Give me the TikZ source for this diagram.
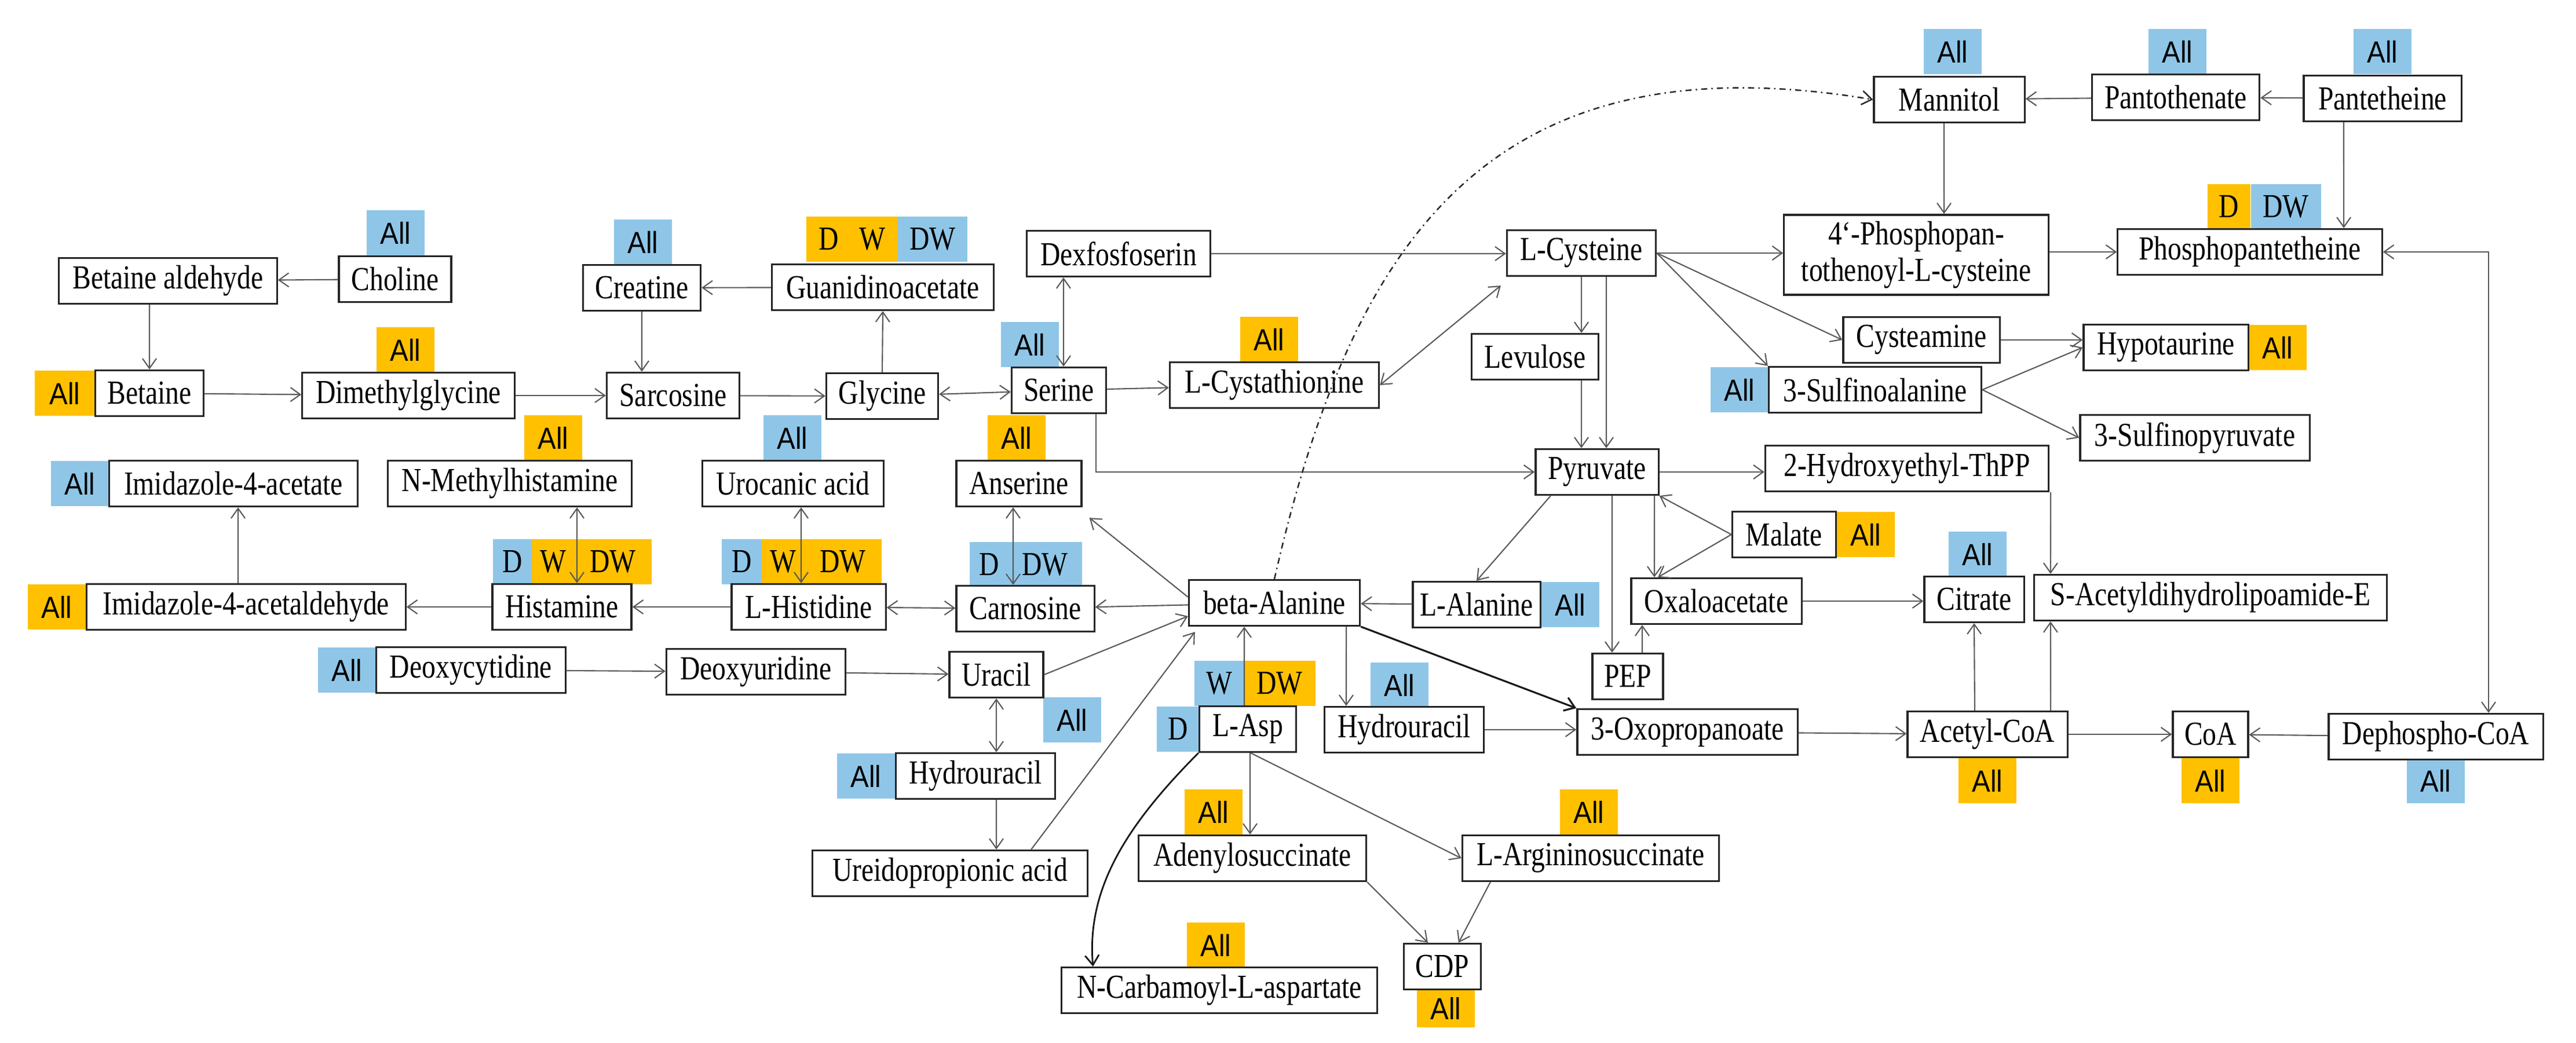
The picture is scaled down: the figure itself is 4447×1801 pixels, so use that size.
\documentclass[tikz,border=0pt]{standalone}
\usepackage{fontspec}
\setmainfont{Liberation Serif}[FakeStretch=0.82]
\newfontfamily\tagsans{Liberation Sans}[FakeStretch=0.9]
\usetikzlibrary{arrows.meta}
\definecolor{tb}{HTML}{8FC6E8}
\definecolor{to}{HTML}{FFC000}
\begin{document}
\begin{tikzpicture}[x=0.01cm,y=-0.01cm,
  box/.style={draw=black!85,line width=0.9pt,fill=white,minimum height=0.79cm,inner sep=0pt,font=\fontsize{16.5}{18}\selectfont},
  tag/.style={minimum height=0.78cm,minimum width=1cm,inner sep=0pt,font=\tagsans\fontsize{15}{17}\selectfont},
  tagl/.style={minimum height=0.78cm,inner sep=0pt,font=\fontsize{16.5}{18}\selectfont},
  B/.style={tag,fill=tb},O/.style={tag,fill=to},
  BL/.style={tagl,fill=tb},OL/.style={tagl,fill=to},
  e/.style={draw=black!65,line width=0.6pt},
  >={Straight Barb[length=0.17cm,width=0.24cm]}]
\useasboundingbox (0,0) rectangle (4447,1801);
% ---- tags
\node[B] (t1) at (683,402) {All};
\node[B] (t2) at (1110,418) {All};
\node[OL,minimum width=1.57cm] (t3) at (1471,413) {D\hspace{0.6em}W};
\node[BL,minimum width=1.2cm] (t4) at (1610,413) {DW};
\node[O,minimum width=1.04cm] (t5) at (112,679) {All};
\node[O] (t6) at (700,604) {All};
\node[B] (t7) at (1778,595) {All};
\node[O] (t8) at (2191,586) {All};
\node[B] (t9) at (3371,89) {All};
\node[B] (t10) at (3759,89) {All};
\node[B] (t11) at (4113,89) {All};
\node[OL,minimum width=0.74cm] (t12) at (3848,357) {D};
\node[BL,minimum width=1.21cm] (t13) at (3946,357) {DW};
\node[O] (t14) at (3932,600) {All};
\node[B] (t15) at (3003,673) {All};
\node[O] (t16) at (3221,923) {All};
\node[B] (t17) at (2711,1044) {All};
\node[B] (t18) at (3414,957) {All};
\node[B] (t19) at (2416,1183) {All};
\node[O] (t20) at (3431,1348) {All};
\node[O] (t21) at (3816,1348) {All};
\node[B] (t22) at (4205,1348) {All};
\node[B] (t23) at (138,835) {All};
\node[O] (t24) at (955,756) {All};
\node[B] (t25) at (1368,756) {All};
\node[O] (t26) at (1755,756) {All};
\node[O] (t27) at (98,1048) {All};
\node[BL,minimum width=0.67cm] (t28) at (885,970) {D};
\node[OL,minimum width=0.74cm] (t29) at (955,970) {W};
\node[OL,minimum width=1.33cm] (t30) at (1058,970) {DW};
\node[BL,minimum width=0.70cm] (t31) at (1281,970) {D};
\node[OL,minimum width=0.74cm] (t32) at (1352,970) {W};
\node[OL,minimum width=1.33cm] (t33) at (1455,970) {DW};
\node[BL,minimum width=0.68cm] (t34) at (1708,975) {D};
\node[BL,minimum width=1.28cm] (t35) at (1804,975) {DW};
\node[B] (t36) at (599,1157) {All};
\node[B] (t37) at (1851,1243) {All};
\node[B] (t38) at (1495,1340) {All};
\node[BL,minimum width=0.73cm] (t39) at (2034,1259) {D};
\node[BL,minimum width=0.85cm] (t40) at (2105,1180) {W};
\node[OL,minimum width=1.23cm] (t41) at (2209,1180) {DW};
\node[O] (t42) at (2095,1402) {All};
\node[O] (t43) at (2743,1402) {All};
\node[O,minimum height=0.66cm] (t44) at (2496,1741) {All};
\node[O] (t45) at (2099,1632) {All};
% ---- boxes
\node[box,minimum width=3.76cm] (ba) at (290,485) {Betaine aldehyde};
\node[box,minimum width=1.94cm] (chol) at (682,482) {Choline};
\node[box,minimum width=2.03cm] (crea) at (1108,497) {Creatine};
\node[box,minimum width=3.83cm] (gua) at (1524,496) {Guanidinoacetate};
\node[box,minimum width=3.17cm] (dex) at (1931,438) {Dexfosfoserin};
\node[box,minimum width=1.87cm] (bet) at (258,679) {Betaine};
\node[box,minimum width=3.66cm] (dmg) at (705,683) {Dimethylglycine};
\node[box,minimum width=2.29cm] (sar) at (1162,683) {Sarcosine};
\node[box,minimum width=1.93cm] (gly) at (1523,684) {Glycine};
\node[box,minimum width=1.63cm] (ser) at (1828,674) {Serine};
\node[box,minimum width=3.61cm] (lcysta) at (2200,665) {L-Cystathionine};
\node[box,minimum width=2.57cm] (lcys) at (2730,437) {L-Cysteine};
\node[box,minimum width=4.56cm,minimum height=1.38cm,align=center] (phos4) at (3308,440) {4`-Phosphopan-\\tothenoyl-L-cysteine};
\node[box,minimum width=4.56cm] (phospant) at (3884,435) {Phosphopantetheine};
\node[box,minimum width=2.6cm] (mann) at (3365,172) {Mannitol};
\node[box,minimum width=2.89cm] (panto) at (3756,168) {Pantothenate};
\node[box,minimum width=2.72cm] (pant) at (4113,170) {Pantetheine};
\node[box,minimum width=2.19cm] (lev) at (2650,616) {Levulose};
\node[box,minimum width=2.7cm] (cyst) at (3317,587) {Cysteamine};
\node[box,minimum width=2.84cm] (hypo) at (3739,600) {Hypotaurine};
\node[box,minimum width=3.67cm] (sulf) at (3237,673) {3-Sulfinoalanine};
\node[box,minimum width=3.96cm] (sulfp) at (3789,756) {3-Sulfinopyruvate};
\node[box,minimum width=2.12cm] (pyr) at (2757,815) {Pyruvate};
\node[box,minimum width=4.89cm] (hyd) at (3292,809) {2-Hydroxyethyl-ThPP};
\node[box,minimum width=1.79cm] (mal) at (3080,923) {Malate};
\node[box,minimum width=2.2cm] (lal) at (2549,1044) {L-Alanine};
\node[box,minimum width=2.94cm] (oxa) at (2963,1038) {Oxaloacetate};
\node[box,minimum width=1.72cm] (cit) at (3408,1035) {Citrate};
\node[box,minimum width=6.09cm] (sacet) at (3816,1032) {S-Acetyldihydrolipoamide-E};
\node[box,minimum width=1.22cm] (pep) at (2810,1168) {PEP};
\node[box,minimum width=2.75cm] (hyr) at (2424,1260) {Hydrouracil};
\node[box,minimum width=3.8cm] (oxo) at (2913,1264) {3-Oxopropanoate};
\node[box,minimum width=2.76cm] (acet) at (3431,1268) {Acetyl-CoA};
\node[box,minimum width=1.3cm] (coa) at (3816,1268) {CoA};
\node[box,minimum width=3.7cm] (deph) at (4205,1272) {Dephospho-CoA};
\node[box,minimum width=4.28cm] (imac) at (403,835) {Imidazole-4-acetate};
\node[box,minimum width=4.21cm] (nmh) at (880,835) {N-Methylhistamine};
\node[box,minimum width=3.13cm] (uro) at (1369,835) {Urocanic acid};
\node[box,minimum width=2.16cm] (ans) at (1759,835) {Anserine};
\node[box,minimum width=5.5cm] (imald) at (425,1048) {Imidazole-4-acetaldehyde};
\node[box,minimum width=2.4cm] (hist) at (970,1048) {Histamine};
\node[box,minimum width=2.66cm] (lhis) at (1396,1048) {L-Histidine};
\node[box,minimum width=2.38cm] (carn) at (1770,1051) {Carnosine};
\node[box,minimum width=2.95cm] (bal) at (2200,1041) {beta-Alanine};
\node[box,minimum width=3.27cm] (dxc) at (813,1157) {Deoxycytidine};
\node[box,minimum width=3.09cm] (dxu) at (1305,1160) {Deoxyuridine};
\node[box,minimum width=1.62cm] (ura) at (1720,1165) {Uracil};
\node[box,minimum width=2.75cm] (hyl) at (1684,1340) {Hydrouracil};
\node[box,minimum width=4.74cm] (ure) at (1640,1508) {Ureidopropionic acid};
\node[box,minimum width=1.67cm] (lasp) at (2154,1259) {L-Asp};
\node[box,minimum width=3.93cm] (aden) at (2162,1482) {Adenylosuccinate};
\node[box,minimum width=4.43cm] (arg) at (2746,1482) {L-Argininosuccinate};
\node[box,minimum width=1.33cm] (cdp) at (2490,1669) {CDP};
\node[box,minimum width=5.45cm] (ncarb) at (2105,1710) {N-Carbamoyl-L-aspartate};
% ---- edges
\draw[e,->] (chol) -- (ba);
\draw[e,->] ([xshift=-0.32cm]ba.south) -- (bet.north);
\draw[e,->] (bet) -- (dmg);
\draw[e,->] (dmg) -- (sar);
\draw[e,->] (gua) -- (crea);
\draw[e,->] (crea.south) -- ([xshift=-0.54cm]sar.north);
\draw[e,->] (sar) -- (gly);
\draw[e,->] (gly.north) -- (gua.south);
\draw[e,<->] (gly) -- (ser);
\draw[e,<->] ([xshift=-0.95cm]dex.south) -- ([xshift=0.08cm]ser.north);
\draw[e,->] (ser) -- (lcysta);
\draw[e,->] (dex) -- (dex -| lcys.west);
\draw[e,<->] (lcysta.east) -- ([xshift=-0.09cm,yshift=-0.15cm]lcys.south west);
\draw[e,->] ([xshift=0.64cm]ser.south) |- (pyr.west);
\draw[e,->] (lcys.south) -- (lev.north -| lcys.south);
\draw[e,->] (lev.south -| lcys.south) -- (pyr.north -| lcys.south);
\draw[e,->] ([xshift=0.43cm]lcys.south) -- ([xshift=0.16cm]pyr.north);
\draw[e,->] (lcys.east) -- (lcys.east -| phos4.west);
\draw[e,->] (lcys.east) -- (cyst.west);
\draw[e,->] (lcys.east) -- (sulf.north west);
\draw[e,->] (cyst.east) -- (cyst.east -| hypo.west);
\draw[e,->] (sulf.east) -- (hypo.west);
\draw[e,->] (sulf.east) -- (sulfp.west);
\draw[e,->] (phos4.east |- phospant.west) -- (phospant.west);
\draw[e,->] ([xshift=-0.67cm]pant.south) -- ([xshift=1.62cm]phospant.north);
\draw[e,->] (pant) -- (panto);
\draw[e,->] (panto) -- (mann);
\draw[e,->] ([xshift=-0.09cm]mann.south) -- ([xshift=0.48cm]phos4.north);
\draw[e,<->] (phospant.east) -| ([xshift=0.91cm]deph.north);
\draw[e,->] (deph) -- (coa);
\draw[e,->] (acet) -- (coa);
\draw[e,->] ([xshift=-0.22cm]acet.north) -- (cit.south);
\draw[e,->] ([xshift=1.09cm]acet.north) -- ([xshift=-2.76cm]sacet.south);
\draw[e,->] ([xshift=2.48cm]hyd.south) -- ([xshift=-2.76cm]sacet.north);
\draw[e,->] (oxa.east) -- (oxa.east -| cit.west);
\draw[e,->] (oxo) -- (acet);
\draw[e,->] (pyr.east) -- (pyr.east -| hyd.west);
\draw[e,->] ([xshift=-0.8cm]pyr.south) -- (lal.north);
\draw[e,->] ([xshift=0.26cm]pyr.south) -- ([xshift=-0.27cm]pep.north);
\draw[e,->] ([xshift=0.25cm]pep.north) -- ([xshift=-1.28cm]oxa.south);
\draw[e,->] ([xshift=0.99cm]pyr.south) -- ([xshift=-1.07cm]oxa.north);
\draw[e,->] (mal.west) -- (pyr.south east);
\draw[e,->] (mal.west) -- ([xshift=-1.01cm]oxa.north);
\draw[e,->] (lal) -- (bal);
\draw[e,->] (bal) -- (carn);
\draw[e,->] ([yshift=0.1cm]bal.west) -- ([xshift=0.12cm,yshift=-0.18cm]ans.south east);
\draw[e,<->] (carn) -- (lhis);
\draw[e,->] (lhis) -- (hist);
\draw[e,->] (hist) -- (imald);
\draw[e,->] ([xshift=-0.14cm]imald.north) -- ([xshift=0.08cm]imac.south);
\draw[e,<->] ([xshift=0.26cm]hist.north) -- ([xshift=1.16cm]nmh.south);
\draw[e,<->] ([xshift=-0.13cm]lhis.north) -- ([xshift=0.14cm]uro.south);
\draw[e,<->] ([xshift=-0.21cm]carn.north) -- ([xshift=-0.1cm]ans.south);
\draw[e,->] (dxc) -- (dxu);
\draw[e,->] (dxu) -- (ura);
\draw[e,->] (ura.east) -- ([yshift=-0.23cm]bal.west);
\draw[e,<->] (ura.south) -- (hyl.north -| ura.south);
\draw[e,->] ([xshift=0.36cm]hyl.south) -- ([xshift=0.8cm]ure.north);
\draw[e,->] ([xshift=1.4cm]ure.north) -- ([xshift=0.12cm,yshift=-0.09cm]bal.south west);
\draw[e,->] ([xshift=-0.06cm]lasp.north) -- ([xshift=-0.52cm]bal.south);
\draw[e,->] ([xshift=1.24cm]bal.south) -- ([xshift=-1cm]hyr.north);
\draw[line width=0.9pt,black!90,->] (bal.south east) -- (oxo.north west);
\draw[e,->] (hyr.east) -- (hyr.east -| oxo.west);
\draw[e,->] ([xshift=0.04cm]lasp.south) -- ([xshift=-0.04cm]aden.north);
\draw[e,->] ([xshift=0.05cm]lasp.south) -- (arg.west);
\draw[line width=0.8pt,black!90,->] (lasp.south west) .. controls (1950,1420) and (1875,1530) .. ([xshift=-2.18cm]ncarb.north);
\draw[e,->] (aden.south east) -- ([xshift=-0.25cm]cdp.north);
\draw[e,->] ([xshift=0.5cm]arg.south west) -- ([xshift=0.28cm]cdp.north);
\draw[line width=0.7pt,black!85,dash dot,->] (bal.north) .. controls (2330,430) and (2560,60) .. (mann.west);
\end{tikzpicture}
\end{document}
